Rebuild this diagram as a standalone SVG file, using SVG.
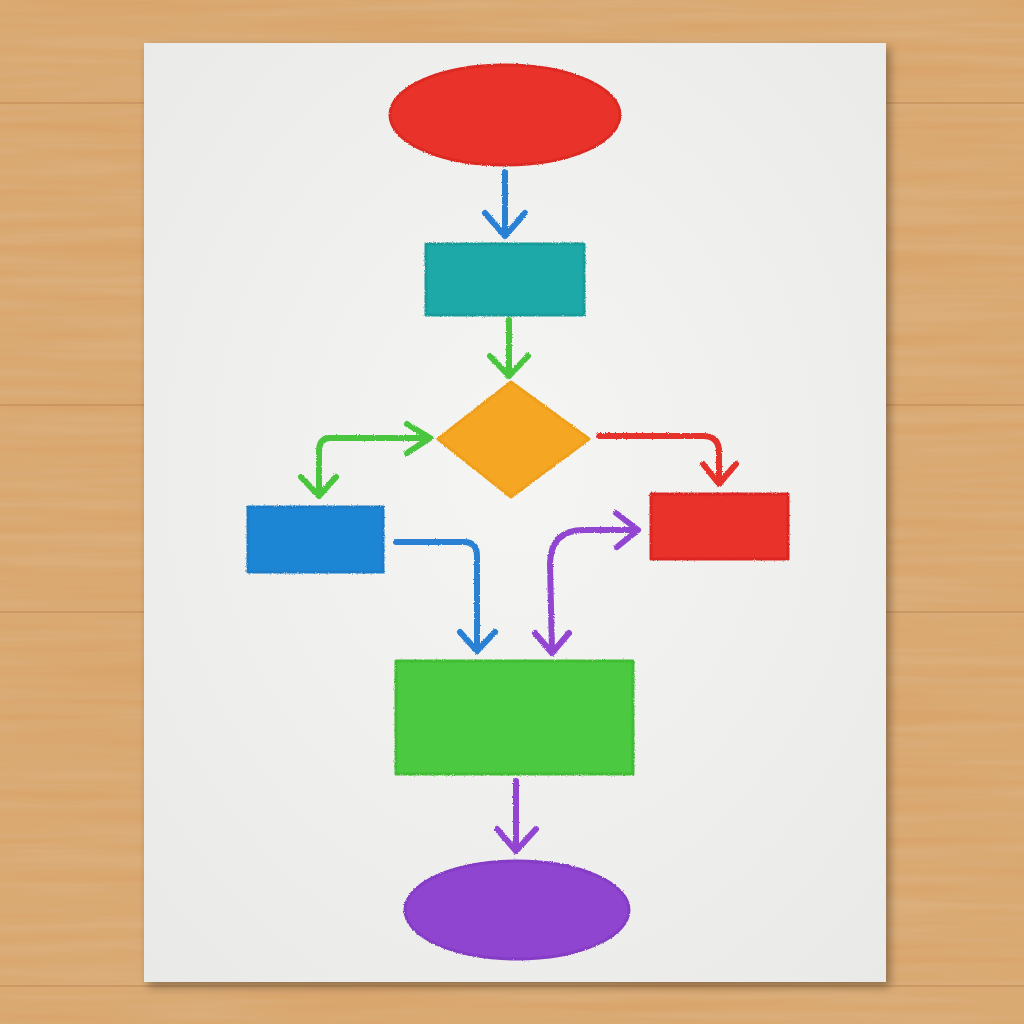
<svg xmlns="http://www.w3.org/2000/svg" width="1024" height="1024" viewBox="0 0 1024 1024">
<defs>
<filter id="wood" x="0" y="0" width="100%" height="100%">
<feTurbulence type="fractalNoise" baseFrequency="0.004 0.09" numOctaves="3" seed="4" result="n"/>
<feColorMatrix in="n" type="matrix" values="0 0 0 0 0.72  0 0 0 0 0.47  0 0 0 0 0.24  0 0 0 0.9 -0.2" result="g"/>
<feComposite in="g" in2="SourceGraphic" operator="atop"/>
</filter>
<filter id="crayon" x="-5%" y="-5%" width="110%" height="110%">
<feTurbulence type="fractalNoise" baseFrequency="0.9" numOctaves="2" seed="2" result="t"/>
<feDisplacementMap in="SourceGraphic" in2="t" scale="2.5" xChannelSelector="R" yChannelSelector="G"/>
</filter>
<filter id="shadow" x="-5%" y="-5%" width="115%" height="115%">
<feGaussianBlur in="SourceAlpha" stdDeviation="5"/>
<feOffset dx="4" dy="5" result="b"/>
<feComponentTransfer><feFuncA type="linear" slope="0.35"/></feComponentTransfer>
<feMerge><feMergeNode/><feMergeNode in="SourceGraphic"/></feMerge>
</filter>
<radialGradient id="paperG" cx="0.5" cy="0.45" r="0.75">
<stop offset="0" stop-color="#f5f5f4"/>
<stop offset="1" stop-color="#e9e9e7"/>
</radialGradient>
<style>
.ln{fill:none;stroke-width:6;stroke-linecap:round;stroke-linejoin:round}
.sh{stroke-width:3;stroke-linejoin:round}
.blue{stroke:#2a80d2}
.green{stroke:#4ac63c}
.red{stroke:#e5322c}
.purple{stroke:#9145d0}
</style>
</defs>
<rect width="1024" height="1024" fill="#d9a56c"/>
<rect width="1024" height="1024" fill="#d9a56c" filter="url(#wood)"/>
<g stroke="#b98350" stroke-width="2" opacity="0.45">
<line x1="0" y1="103" x2="144" y2="103"/><line x1="886" y1="103" x2="1024" y2="103"/>
<line x1="0" y1="405" x2="144" y2="405"/><line x1="886" y1="405" x2="1024" y2="405"/>
<line x1="0" y1="612" x2="144" y2="612"/><line x1="886" y1="612" x2="1024" y2="612"/>
<line x1="0" y1="986" x2="1024" y2="986"/>
</g>
<rect x="144" y="43" width="742" height="939" fill="url(#paperG)" filter="url(#shadow)"/>

<g id="connectors" filter="url(#crayon)">
<path class="ln blue" d="M505 172 V236 M485 213 L505 236 L525 213"/>
<path class="ln green" d="M509 320 V376 M490 356 L509 376 L528 356"/>
<path class="ln green" d="M430 438 H330 Q319 438 319 452 V496 M407 424 L430 438 L407 453 M301 477 L319 496 L336 477"/>
<path class="ln red" d="M599 436 H703 Q719 436 719 452 V484 M703 464 L719 484 L736 464"/>
<path class="ln blue" d="M396 542 H464 Q477 542 477 556 V651 M460 632 L477 651 L495 632"/>
<path class="ln purple" d="M638 530 H584 Q551 530 550 563 L552 653 M616 513 L638 530 L617 547 M535 633 L552 653 L569 633"/>
<path class="ln purple" d="M516 781 V851 M497 829 L516 851 L536 829"/>
</g>

<g id="start" filter="url(#crayon)">
<ellipse cx="505" cy="115" rx="115" ry="50" fill="#e8332b" class="sh" stroke="#dc2a23"/>
</g>
<g id="process1" filter="url(#crayon)">
<rect x="426" y="244" width="158" height="71" fill="#1fa9a7" class="sh" stroke="#189c99"/>
</g>
<g id="decision" filter="url(#crayon)">
<polygon points="511,382 589,439 511,497 438,439" fill="#f5a624" class="sh" stroke="#eea01e"/>
</g>
<g id="left-process" filter="url(#crayon)">
<rect x="248" y="507" width="135" height="65" fill="#1f86d4" class="sh" stroke="#1a7cc8"/>
</g>
<g id="right-process" filter="url(#crayon)">
<rect x="651" y="494" width="137" height="65" fill="#e8302b" class="sh" stroke="#dc2823"/>
</g>
<g id="merge" filter="url(#crayon)">
<rect x="396" y="661" width="237" height="113" fill="#4cc93f" class="sh" stroke="#40bd34"/>
</g>
<g id="end" filter="url(#crayon)">
<ellipse cx="517" cy="910" rx="112" ry="49" fill="#8f45cf" class="sh" stroke="#843cc4"/>
</g>
</svg>
